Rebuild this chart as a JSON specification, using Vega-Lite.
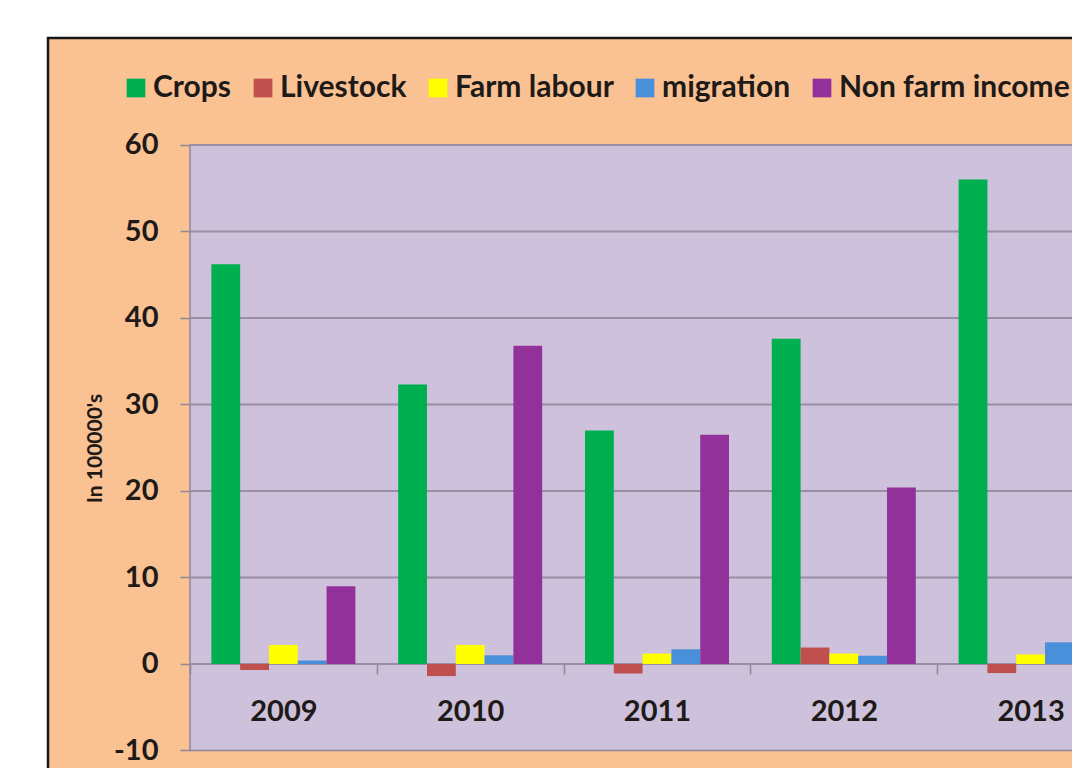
{
  "$schema": "https://vega.github.io/schema/vega-lite/v6.json",
  "width": 1218,
  "height": 752,
  "autosize": {"type": "none"},
  "padding": {"left": 48, "top": 38, "right": 0, "bottom": 0},
  "background": "#ffffff",
  "config": {
    "font": "Lato",
    "view": {"fill": "#FAC192", "stroke": "#161616", "strokeWidth": 2.5}
  },
  "layer": [
    {
      "layer": [
        {
          "data": {"values": [{"start": 2008.5, "end": 2013.5, "low": -10, "high": 60}]},
          "mark": {"type": "rect", "fill": "#CDC1DB", "stroke": "#918699", "strokeWidth": 1.5},
          "encoding": {
            "x": {"field": "start", "type": "quantitative", "scale": {"domain": [2007.7398, 2014.2601], "nice": false, "zero": false}, "axis": null},
            "x2": {"field": "end"},
            "y": {
              "field": "low", "type": "quantitative", "title": "In 100000's",
              "scale": {"domain": [-14.57, 72.37], "nice": false, "zero": false},
              "axis": {"orient": "left", "offset": -142, "zindex": 1, "values": [-10, 0, 10, 20, 30, 40, 50, 60], "labelExpr": "'' + datum.value", "domain": false, "grid": false, "ticks": true, "tickSize": 10, "tickColor": "#918699", "tickWidth": 1.5, "labelFont": "Lato", "labelFontSize": 29, "labelFontWeight": "bold", "labelColor": "#1E1A18", "labelPadding": 22, "title": "In 100000's", "titleFont": "Lato", "titleFontSize": 21, "titleFontWeight": "bold", "titleColor": "#1E1A18", "titleAngle": 270, "titleAlign": "center", "titleBaseline": "middle", "titleX": -95, "titleY": 410}
            },
            "y2": {"field": "high"}
          }
        },
        {
          "data": {"values": [{"v": 0}, {"v": 10}, {"v": 20}, {"v": 30}, {"v": 40}, {"v": 50}, {"v": 60}]},
          "mark": {"type": "rule", "color": "#9A8EA4", "strokeWidth": 2},
          "encoding": {
            "x": {"datum": 2008.5, "type": "quantitative", "scale": {"domain": [2007.7398, 2014.2601], "nice": false, "zero": false}, "axis": null},
            "x2": {"datum": 2013.5},
            "y": {
              "field": "v", "type": "quantitative", "title": "In 100000's",
              "scale": {"domain": [-14.57, 72.37], "nice": false, "zero": false},
              "axis": {"orient": "left", "offset": -142, "zindex": 1, "values": [-10, 0, 10, 20, 30, 40, 50, 60], "labelExpr": "'' + datum.value", "domain": false, "grid": false, "ticks": true, "tickSize": 10, "tickColor": "#918699", "tickWidth": 1.5, "labelFont": "Lato", "labelFontSize": 29, "labelFontWeight": "bold", "labelColor": "#1E1A18", "labelPadding": 22, "title": "In 100000's", "titleFont": "Lato", "titleFontSize": 21, "titleFontWeight": "bold", "titleColor": "#1E1A18", "titleAngle": 270, "titleAlign": "center", "titleBaseline": "middle", "titleX": -95, "titleY": 410}
            }
          }
        }
      ]
    },
    {
      "data": {
        "values": [
          {"year": "2009", "series": "Crops", "value": 46.2},
          {"year": "2009", "series": "Livestock", "value": -0.7},
          {"year": "2009", "series": "Farm labour", "value": 2.2},
          {"year": "2009", "series": "migration", "value": 0.4},
          {"year": "2009", "series": "Non farm income", "value": 9.0},
          {"year": "2010", "series": "Crops", "value": 32.3},
          {"year": "2010", "series": "Livestock", "value": -1.4},
          {"year": "2010", "series": "Farm labour", "value": 2.2},
          {"year": "2010", "series": "migration", "value": 1.0},
          {"year": "2010", "series": "Non farm income", "value": 36.8},
          {"year": "2011", "series": "Crops", "value": 27.0},
          {"year": "2011", "series": "Livestock", "value": -1.1},
          {"year": "2011", "series": "Farm labour", "value": 1.2},
          {"year": "2011", "series": "migration", "value": 1.7},
          {"year": "2011", "series": "Non farm income", "value": 26.5},
          {"year": "2012", "series": "Crops", "value": 37.6},
          {"year": "2012", "series": "Livestock", "value": 1.9},
          {"year": "2012", "series": "Farm labour", "value": 1.2},
          {"year": "2012", "series": "migration", "value": 0.95},
          {"year": "2012", "series": "Non farm income", "value": 20.4},
          {"year": "2013", "series": "Crops", "value": 56.0},
          {"year": "2013", "series": "Livestock", "value": -1.05},
          {"year": "2013", "series": "Farm labour", "value": 1.1},
          {"year": "2013", "series": "migration", "value": 2.5},
          {"year": "2013", "series": "Non farm income", "value": 26.0}
        ]
      },
      "mark": {"type": "bar"},
      "encoding": {
        "x": {
          "field": "year", "type": "nominal",
          "scale": {"paddingInner": 0, "paddingOuter": 0.76},
          "axis": {
            "orient": "bottom",
            "offset": -126,
            "zindex": 1,
            "title": null,
            "domain": false,
            "grid": false,
            "tickBand": "extent",
            "tickSize": 10,
            "tickColor": "#918699",
            "tickWidth": 1.5,
            "labelAngle": 0,
            "labelFont": "Lato",
            "labelFontSize": 29,
            "labelFontWeight": "bold",
            "labelColor": "#1E1A18",
            "labelPadding": 23
          }
        },
        "xOffset": {
          "field": "series", "type": "nominal",
          "sort": ["Crops", "Livestock", "Farm labour", "migration", "Non farm income"],
          "scale": {"paddingInner": 0, "paddingOuter": 0.743}
        },
        "y": {
          "field": "value", "type": "quantitative", "title": "In 100000's",
          "scale": {"domain": [-14.57, 72.37], "nice": false, "zero": false},
          "axis": {"orient": "left", "offset": -142, "zindex": 1, "values": [-10, 0, 10, 20, 30, 40, 50, 60], "labelExpr": "'' + datum.value", "domain": false, "grid": false, "ticks": true, "tickSize": 10, "tickColor": "#918699", "tickWidth": 1.5, "labelFont": "Lato", "labelFontSize": 29, "labelFontWeight": "bold", "labelColor": "#1E1A18", "labelPadding": 22, "title": "In 100000's", "titleFont": "Lato", "titleFontSize": 21, "titleFontWeight": "bold", "titleColor": "#1E1A18", "titleAngle": 270, "titleAlign": "center", "titleBaseline": "middle", "titleX": -95, "titleY": 410}
        },
        "color": {
          "field": "series", "type": "nominal",
          "scale": {
            "domain": ["Crops", "Livestock", "Farm labour", "migration", "Non farm income"],
            "range": ["#00B050", "#C0504D", "#FFFF00", "#4A8FD9", "#93319B"]
          },
          "legend": {
            "orient": "none",
            "legendX": 73,
            "legendY": 35,
            "direction": "horizontal",
            "columns": 5,
            "title": null,
            "symbolType": "square",
            "symbolSize": 350,
            "symbolStrokeWidth": 0,
            "labelFont": "Lato",
            "labelFontSize": 30,
            "labelFontWeight": "bold",
            "labelColor": "#1E1A18",
            "labelOffset": 2,
            "labelLimit": 500,
            "columnPadding": 16
          }
        }
      }
    }
  ],
  "resolve": {"scale": {"x": "independent"}}
}
